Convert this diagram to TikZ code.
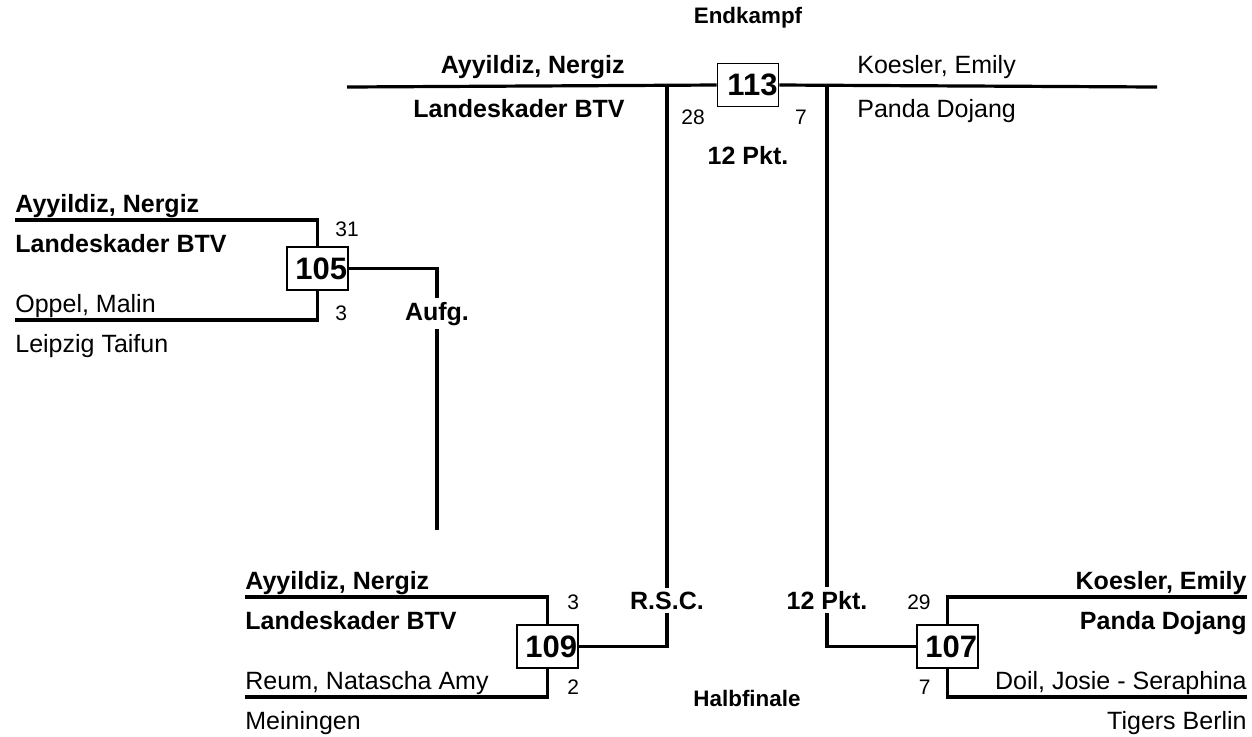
\documentclass[tikz,border=0pt]{standalone}
\usepackage{fontspec}
\setmainfont{Liberation Sans}
\usetikzlibrary{positioning}

\begin{document}
\begin{tikzpicture}[x=0.5pt,y=-0.5pt,
    bline/.style={line width=1.6pt},
    kampf/.style={draw,line width=0.9pt,fill=white,inner xsep=0.5pt,inner ysep=0pt,text width=29.5pt,align=right,minimum height=21.5pt,font=\fontsize{15.5}{16}\selectfont\bfseries},
    win/.style={inner sep=0pt,font=\fontsize{12.5}{14}\selectfont\bfseries},
    lose/.style={inner sep=0pt,font=\fontsize{12.5}{14}\selectfont},
    score/.style={inner sep=0pt,font=\fontsize{10.5}{12}\selectfont},
    res/.style={fill=white,inner sep=2pt,font=\fontsize{12.5}{14}\selectfont\bfseries},
    runde/.style={inner sep=0pt,font=\fontsize{11.2}{13}\selectfont\bfseries}]
  \useasboundingbox (0,0) rectangle (1252,736);

  % match boxes
  \node[kampf] (m113) at (748,85) {113};
  \node[kampf] (m105) at (317.5,268.5) {105};
  \node[kampf] (m109) at (547.5,646.5) {109};
  \node[kampf] (m107) at (947.5,646.5) {107};

  % line ends
  \coordinate (finL) at (347,87);
  \coordinate (finR) at (1157,87);
  \coordinate (j1) at (667,87);
  \coordinate (j2) at (827,87);
  \coordinate (t105) at (15,220);
  \coordinate (b105) at (15,320);
  \coordinate (e105) at (437,530);
  \coordinate (t109) at (245,597);
  \coordinate (b109) at (245,697);
  \coordinate (t107) at (1247,597);
  \coordinate (b107) at (1247,697);

  % bracket lines
  \draw[bline] (finL) -- (m113.west);
  \draw[bline] (m113.east) -- (finR);
  \draw[bline] (t105) -| (m105.north);
  \draw[bline] (b105) -| (m105.south);
  \draw[bline] (m105.east) -| (e105);
  \draw[bline] (t109) -| (m109.north);
  \draw[bline] (b109) -| (m109.south);
  \draw[bline] (m109.east) -| (j1);
  \draw[bline] (t107) -| (m107.north);
  \draw[bline] (b107) -| (m107.south);
  \draw[bline] (m107.west) -| (j2);

  % final
  \node[runde] (endk) at (748,18) {Endkampf};
  \node[win,anchor=base east] (f1a) at (625,73) {Ayyildiz, Nergiz};
  \node[win,anchor=base east] (f1b) at (625,117) {Landeskader BTV};
  \node[lose,anchor=base west] (f2a) at (857,73) {Koesler, Emily};
  \node[lose,anchor=base west] (f2b) at (857,117) {Panda Dojang};
  \node[score,anchor=base] (s113a) at (693,124) {28};
  \node[score,anchor=base] (s113b) at (801,124) {7};
  \node[win,anchor=base] (r113) at (748,164) {12 Pkt.};

  % match 105
  \node[win,anchor=base west] (a105) at (15,212) {Ayyildiz, Nergiz};
  \node[win,anchor=base west] (a105v) at (15,252) {Landeskader BTV};
  \node[lose,anchor=base west] (o105) at (15,312) {Oppel, Malin};
  \node[lose,anchor=base west] (o105v) at (15,352) {Leipzig Taifun};
  \node[score,anchor=base west] (s105a) at (335,236) {31};
  \node[score,anchor=base west] (s105b) at (335,320) {3};
  \node[res,anchor=base] (r105) at (437,320) {Aufg.};

  % match 109
  \node[win,anchor=base west] (a109) at (245,589) {Ayyildiz, Nergiz};
  \node[win,anchor=base west] (a109v) at (245,629) {Landeskader BTV};
  \node[lose,anchor=base west] (o109) at (245,689) {Reum, Natascha Amy};
  \node[lose,anchor=base west] (o109v) at (245,729) {Meiningen};
  \node[score,anchor=base west] (s109a) at (567,609) {3};
  \node[score,anchor=base west] (s109b) at (567,694) {2};
  \node[res,anchor=base] (r109) at (667,609) {R.S.C.};

  % match 107
  \node[win,anchor=base east] (a107) at (1247,589) {Koesler, Emily};
  \node[win,anchor=base east] (a107v) at (1247,629) {Panda Dojang};
  \node[lose,anchor=base east] (o107) at (1247,689) {Doil, Josie - Seraphina};
  \node[lose,anchor=base east] (o107v) at (1247,729) {Tigers Berlin};
  \node[score,anchor=base east] (s107a) at (931,609) {29};
  \node[score,anchor=base east] (s107b) at (931,694) {7};
  \node[res,anchor=base] (r107) at (827,609) {12 Pkt.};

  \node[runde,anchor=base] (halb) at (747,706) {Halbfinale};
\end{tikzpicture}
\end{document}
